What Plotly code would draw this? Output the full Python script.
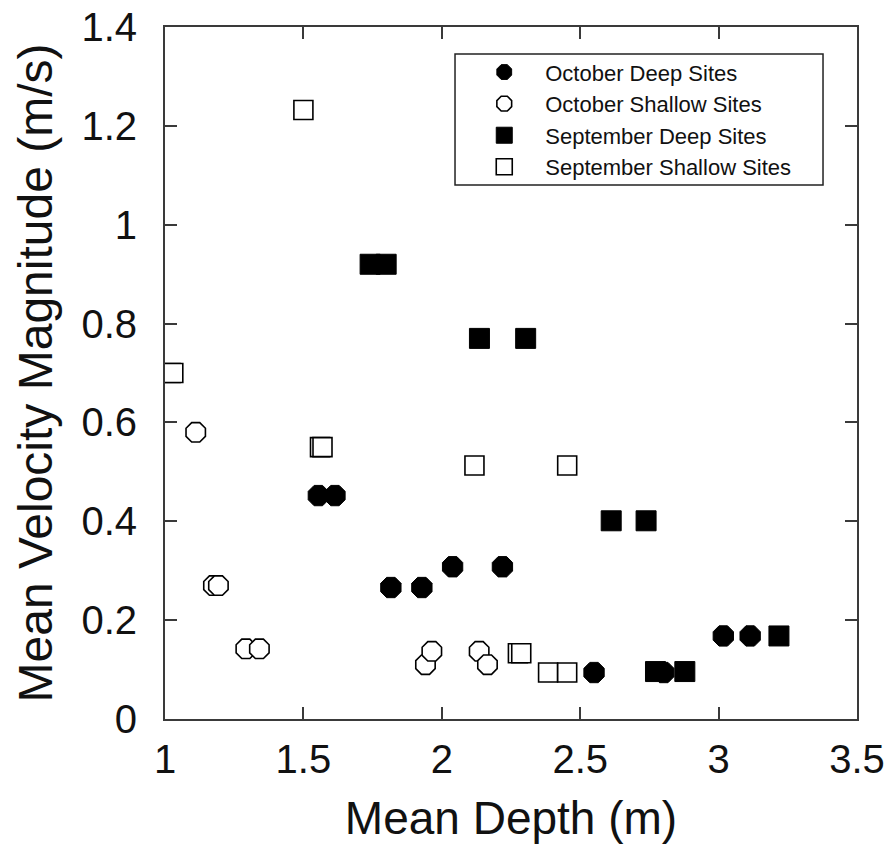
import plotly.graph_objects as go

# ---- data ----
oct_deep_x = [1.554, 1.614, 1.816, 1.928, 2.039, 2.219, 2.550, 2.802, 3.017, 3.114]
oct_deep_y = [0.452, 0.452, 0.266, 0.266, 0.308, 0.308, 0.094, 0.094, 0.168, 0.168]

oct_shallow_x = [1.111, 1.175, 1.193, 1.292, 1.341, 1.941, 1.964, 2.135, 2.165]
oct_shallow_y = [0.580, 0.270, 0.270, 0.142, 0.142, 0.110, 0.137, 0.137, 0.110]

sep_deep_x = [1.741, 1.799, 2.136, 2.303, 2.612, 2.738, 2.772, 2.878, 3.218]
sep_deep_y = [0.920, 0.920, 0.770, 0.770, 0.401, 0.401, 0.096, 0.096, 0.168]

sep_shallow_x = [1.500, 1.020, 1.030, 1.560, 1.569, 2.118, 2.453, 2.275, 2.287, 2.384, 2.453]
sep_shallow_y = [1.232, 0.700, 0.700, 0.550, 0.550, 0.513, 0.513, 0.133, 0.133, 0.094, 0.094]

series_names = ["October Deep Sites", "October Shallow Sites",
                "September Deep Sites", "September Shallow Sites"]

x_ticks = [1, 1.5, 2, 2.5, 3, 3.5]
y_ticks = [0, 0.2, 0.4, 0.6, 0.8, 1.0, 1.2, 1.4]

FONT = "Liberation Sans, Arial, sans-serif"
INK = "#111111"
AXIS = "#3a3a3a"

fig = go.Figure()

fig.add_trace(go.Scatter(
    x=oct_deep_x, y=oct_deep_y, mode="markers", name=series_names[0],
    marker=dict(symbol="octagon", size=22, color="black",
                line=dict(color="black", width=1))))
fig.add_trace(go.Scatter(
    x=oct_shallow_x, y=oct_shallow_y, mode="markers", name=series_names[1],
    marker=dict(symbol="octagon", size=21, color="white",
                line=dict(color="black", width=1.6))))
fig.add_trace(go.Scatter(
    x=sep_deep_x, y=sep_deep_y, mode="markers", name=series_names[2],
    marker=dict(symbol="square", size=20, color="black",
                line=dict(color="black", width=1))))
fig.add_trace(go.Scatter(
    x=sep_shallow_x, y=sep_shallow_y, mode="markers", name=series_names[3],
    marker=dict(symbol="square", size=19, color="white",
                line=dict(color="black", width=1.6))))

axis_common = dict(
    showline=True, linecolor=AXIS, linewidth=2, mirror="allticks",
    ticks="inside", ticklen=12, tickwidth=2, tickcolor=AXIS,
    showgrid=False, zeroline=False, automargin=False,
    tickfont=dict(family=FONT, size=40, color=INK),
)

fig.update_xaxes(
    range=[1, 3.5], tickvals=x_ticks, ticktext=[f"{v:g}" for v in x_ticks],
    title=dict(text="Mean Depth (m)", font=dict(family=FONT, size=46, color=INK), standoff=22),
    ticklabelstandoff=4,
    **axis_common)
fig.update_yaxes(
    range=[0, 1.4], tickvals=y_ticks, ticktext=[f"{v:g}" for v in y_ticks],
    title=dict(text="Mean Velocity Magnitude (m/s)", font=dict(family=FONT, size=48, color=INK), standoff=14),
    ticklabelstandoff=18,
    **axis_common)

# legend frame (decoration only)
fig.add_shape(type="rect", xref="paper", yref="paper",
              x0=0.4191, x1=0.9509, y0=0.7717, y1=0.961,
              line=dict(color="#222222", width=1.5), fillcolor="white", layer="below")

fig.update_layout(
    width=888, height=845,
    margin=dict(l=165, r=31, t=27, b=126, autoexpand=False),
    paper_bgcolor="white", plot_bgcolor="white",
    showlegend=True,
    legend=dict(
        x=0.431, y=0.965, xanchor="left", yanchor="top",
        bgcolor="rgba(0,0,0,0)", borderwidth=0,
        font=dict(family=FONT, size=22, color=INK),
        itemwidth=72, tracegroupgap=0,
    ),
)

fig.write_html("out.html")
